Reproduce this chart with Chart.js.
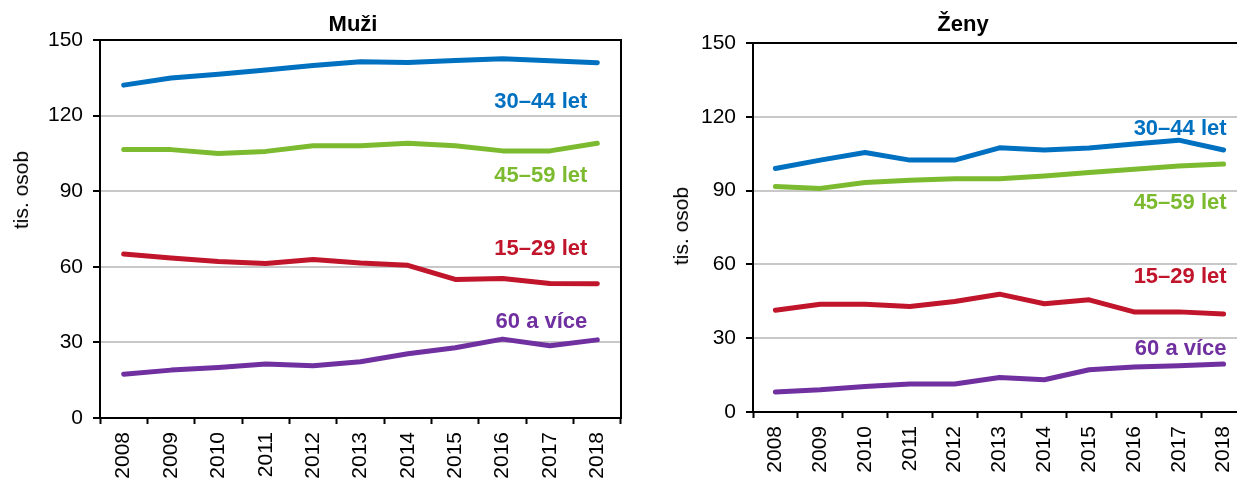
<!DOCTYPE html>
<html>
<head>
<meta charset="utf-8">
<script src="https://cdn.jsdelivr.net/npm/chart.js@4/dist/chart.umd.min.js"></script>
<style>
  body { margin: 0; background: #fff; overflow: hidden; font-family: "Liberation Sans", Arial, sans-serif; }
  #wrap { position: relative; width: 1237px; height: 479px; overflow: hidden; }
  canvas { position: absolute; top: 0; }
  .title { position: absolute; top: 12px; font-size: 22px; line-height: 24px; font-weight: bold; color: #000; transform: translateX(-50%); white-space: nowrap; }
  .ytitle { position: absolute; font-size: 21px; line-height: 22px; color: #000; white-space: nowrap; transform: translate(-50%, -50%) rotate(-90deg); }
</style>
</head>
<body>
<div id="wrap">
  <canvas id="muzi" width="640" height="479" style="left:0;width:640px;height:479px"></canvas>
  <canvas id="zeny" width="620" height="479" style="left:640px;width:620px;height:479px"></canvas>
  <div class="title" style="left:353px">Muži</div>
  <div class="title" style="left:963px">Ženy</div>
  <div class="ytitle" style="left:21px;top:190px">tis. osob</div>
  <div class="ytitle" style="left:681px;top:226px">tis. osob</div>
</div>
<script>
const years = ["2008", "2009", "2010", "2011", "2012", "2013", "2014", "2015", "2016", "2017", "2018"];
const groups = ["15–29 let", "30–44 let", "45–59 let", "60 a více"];

const muzi15 = [65.1, 63.5, 62.1, 61.3, 62.9, 61.5, 60.6, 55.0, 55.4, 53.4, 53.3];
const muzi30 = [132.1, 134.9, 136.4, 138.1, 139.9, 141.4, 141.1, 141.9, 142.6, 141.8, 141.0];
const muzi45 = [106.5, 106.5, 105.0, 105.8, 108.0, 108.0, 109.0, 108.0, 106.0, 106.0, 109.0];
const muzi60 = [17.4, 19.0, 20.0, 21.4, 20.7, 22.3, 25.5, 27.9, 31.3, 28.7, 31.0];

const zeny15 = [41.4, 43.8, 43.8, 42.9, 44.9, 47.9, 44.0, 45.6, 40.7, 40.7, 39.8];
const zeny30 = [99.0, 102.4, 105.5, 102.4, 102.4, 107.4, 106.5, 107.3, 108.9, 110.5, 106.5];
const zeny45 = [91.7, 90.9, 93.3, 94.2, 94.8, 94.8, 95.9, 97.4, 98.7, 100.0, 100.8];
const zeny60 = [8.1, 9.0, 10.4, 11.4, 11.4, 14.0, 13.1, 17.2, 18.3, 18.8, 19.5];

const yMin = 0, yMax = 150, yStep = 30;

const colors = ["#c0152a", "#0070c0", "#7cbb2f", "#7030a0"];
const font = "'Liberation Sans', Arial, sans-serif";

// frame on top/right of plot area
const framePlugin = {
  id: "frame",
  afterDraw(chart) {
    const a = chart.chartArea, ctx = chart.ctx;
    ctx.save();
    ctx.strokeStyle = "#000";
    ctx.lineWidth = 2;
    ctx.beginPath();
    ctx.moveTo(a.left, a.top);
    ctx.lineTo(a.right, a.top);
    ctx.lineTo(a.right, a.bottom);
    ctx.stroke();
    ctx.restore();
  }
};

// series names next to the lines
const seriesLabels = {
  id: "seriesLabels",
  afterDatasetsDraw(chart, args, opts) {
    const ctx = chart.ctx;
    const xs = chart.scales.x, ys = chart.scales.y;
    const xr = xs.getPixelForValue(years.length - 1) + opts.dx;
    ctx.save();
    ctx.font = "bold 22px " + font;
    ctx.textAlign = "right";
    ctx.textBaseline = "alphabetic";
    opts.at.forEach((v, i) => {
      ctx.fillStyle = colors[i];
      ctx.fillText(groups[i], xr, ys.getPixelForValue(v) + 8);
    });
    ctx.restore();
  }
};

function makeChart(id, series, yWidth, xHeight, padding, labelAt, labelDx) {
  return new Chart(document.getElementById(id), {
    type: "line",
    data: {
      labels: years,
      datasets: series.map((d, i) => ({
        label: groups[i],
        data: d,
        borderColor: colors[i],
        backgroundColor: colors[i],
        borderWidth: 5,
        pointRadius: 0,
        tension: 0,
        borderCapStyle: "round",
        borderJoinStyle: "round"
      }))
    },
    options: {
      responsive: false,
      animation: false,
      devicePixelRatio: 1,
      layout: { padding: padding },
      plugins: {
        legend: { display: false },
        tooltip: { enabled: false },
        seriesLabels: { at: labelAt, dx: labelDx }
      },
      scales: {
        x: {
          offset: true,
          grid: { display: true, drawOnChartArea: false, drawTicks: true, offset: true, tickLength: 6, tickWidth: 2, tickColor: "#000" },
          border: { color: "#000", width: 2 },
          ticks: { color: "#000", font: { family: font, size: 21 }, minRotation: 90, maxRotation: 90, padding: 8, autoSkip: false },
          afterFit(s) { s.height = xHeight; }
        },
        y: {
          min: yMin,
          max: yMax,
          grid: { color: "#c8c8c8", lineWidth: 2, tickLength: 7, tickWidth: 2, tickColor: "#000" },
          border: { color: "#000", width: 2 },
          ticks: { stepSize: yStep, color: "#000", font: { family: font, size: 21 }, padding: 10 },
          afterFit(s) { s.width = yWidth; }
        }
      }
    },
    plugins: [framePlugin, seriesLabels]
  });
}

makeChart("muzi", [muzi15, muzi30, muzi45, muzi60], 100, 61,
  { top: 40, right: 19, left: 0, bottom: 0 },
  [67.8, 126.2, 97.0, 39.0], -10);

makeChart("zeny", [zeny15, zeny30, zeny45, zeny60], 113, 67,
  { top: 43, right: 14, left: 0, bottom: 0 },
  [55.8, 116.0, 85.8, 26.6], 3);
</script>
</body>
</html>
